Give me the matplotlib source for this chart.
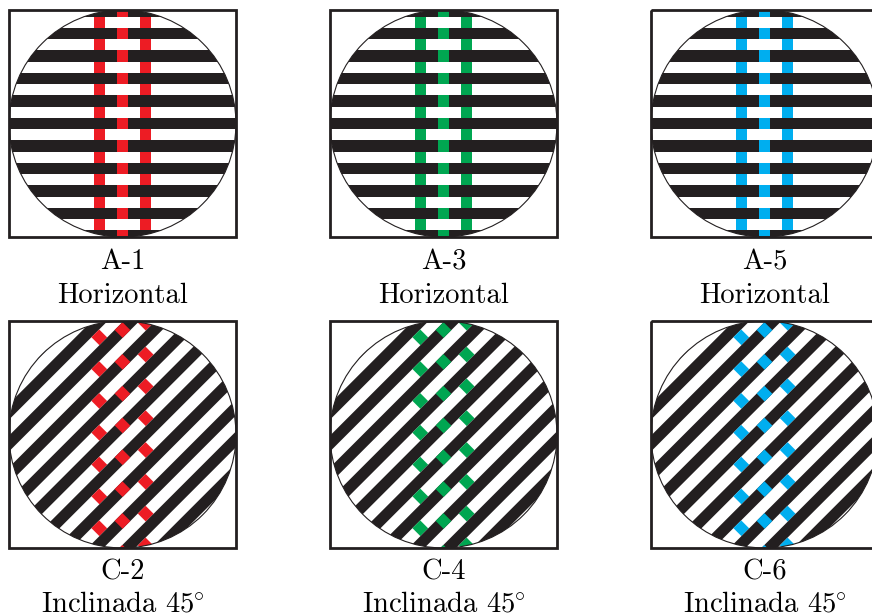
import numpy as np
import matplotlib
matplotlib.use("Agg")
import matplotlib.pyplot as plt
from matplotlib.patches import Rectangle, Circle, Polygon

plt.rcParams['mathtext.fontset'] = 'cm'
plt.rcParams['font.family'] = ['cmr10', 'DejaVu Serif']

# ---- content ----
top_labels = ["A-1", "A-3", "A-5"]
bottom_labels = ["C-2", "C-4", "C-6"]
orientations = ["Horizontal", r"Inclinada $45^{\!\!\circ}$"]
patch_colors = ["#ed1c24", "#00a651", "#00aeef"]

DARK = "#231f20"
W, H = 872, 616
S = 227.0                 # panel box size (px)
col_x0 = [9, 330, 651]    # panel left edges (px)
row_y0 = [10, 321]        # panel top edges (px)
P = 22.5                  # stripe period
BLACK_W = 11.2            # black stripe width
WHITE_W = P - BLACK_W
COL_DX = 23.2             # column spacing
COL_W = 11.5              # column / patch width

fig = plt.figure(figsize=(W / 100, H / 100), dpi=100)


def make_ax(x0, y0):
    ax = fig.add_axes([x0 / W, 1 - (y0 + S) / H, S / W, S / H])
    ax.set_xlim(0, S)
    ax.set_ylim(S, 0)
    ax.set_axis_off()
    return ax


def band(cs, width, length=400):
    n = np.array([1, 1]) / np.sqrt(2)
    d = np.array([1, -1]) / np.sqrt(2)
    p0 = n * (cs / np.sqrt(2))
    pts = [p0 - width / 2 * n - length * d, p0 + width / 2 * n - length * d,
           p0 + width / 2 * n + length * d, p0 - width / 2 * n + length * d]
    return np.array(pts)


def square(cx, cy, perp, along):
    n = np.array([1, 1]) / np.sqrt(2)
    d = np.array([1, -1]) / np.sqrt(2)
    c = np.array([cx, cy])
    return np.array([c - perp / 2 * n - along / 2 * d, c + perp / 2 * n - along / 2 * d,
                     c + perp / 2 * n + along / 2 * d, c - perp / 2 * n + along / 2 * d])


def draw_panel(ax, diagonal, color):
    c = S / 2
    clip = Circle((c, c), c, transform=ax.transData, facecolor='none', edgecolor='none')
    ax.add_patch(clip)
    arts = []
    cols = [c - COL_DX, c, c + COL_DX]
    if not diagonal:
        for k in range(-6, 7):
            yc = c + k * P
            arts.append(ax.add_patch(Rectangle((0, yc - BLACK_W / 2), S, BLACK_W,
                                               facecolor=DARK, edgecolor='none')))
            arts.append(ax.add_patch(Rectangle((cols[1] - COL_W / 2, yc - BLACK_W / 2), COL_W,
                                               BLACK_W, facecolor=color, edgecolor='none')))
            yw = yc + P / 2
            for cx in (cols[0], cols[2]):
                arts.append(ax.add_patch(Rectangle((cx - COL_W / 2, yw - WHITE_W / 2), COL_W,
                                                   WHITE_W, facecolor=color, edgecolor='none')))
    else:
        ps = P * np.sqrt(2)
        base = 2 * c - 9
        for k in range(-9, 10):
            cs = base + k * ps
            arts.append(ax.add_patch(Polygon(band(cs, BLACK_W), closed=True,
                                             facecolor=DARK, edgecolor='none')))
            cx = cols[1]
            arts.append(ax.add_patch(Polygon(square(cx, cs - cx, BLACK_W, COL_W - 0.5),
                                             closed=True, facecolor=color, edgecolor='none')))
            cw = cs + ps / 2
            for cx in (cols[0], cols[2]):
                arts.append(ax.add_patch(Polygon(square(cx, cw - cx, WHITE_W, COL_W - 0.5),
                                                 closed=True, facecolor=color, edgecolor='none')))
    for a in arts:
        a.set_clip_path(clip)
    ax.add_patch(Circle((c, c), c, facecolor='none', edgecolor=DARK, lw=0.8, zorder=5))
    ax.add_patch(Rectangle((0, 0), S, S, facecolor='none', edgecolor=DARK, lw=2.0,
                           clip_on=False, zorder=6))


for j in range(3):
    for i, y0 in enumerate(row_y0):
        ax = make_ax(col_x0[j], y0)
        draw_panel(ax, diagonal=(i == 1), color=patch_colors[j])

fs = 20.6
for j in range(3):
    xc = (col_x0[j] + S / 2) / W
    fig.text(xc, 1 - 269 / H, top_labels[j], ha='center', va='baseline', fontsize=fs)
    fig.text(xc, 1 - 303 / H, orientations[0], ha='center', va='baseline', fontsize=fs)
    fig.text(xc, 1 - 579 / H, bottom_labels[j], ha='center', va='baseline', fontsize=fs)
    fig.text(xc, 1 - 611 / H, orientations[1], ha='center', va='baseline', fontsize=fs)

fig.savefig("out.png", dpi=100, facecolor='white')
